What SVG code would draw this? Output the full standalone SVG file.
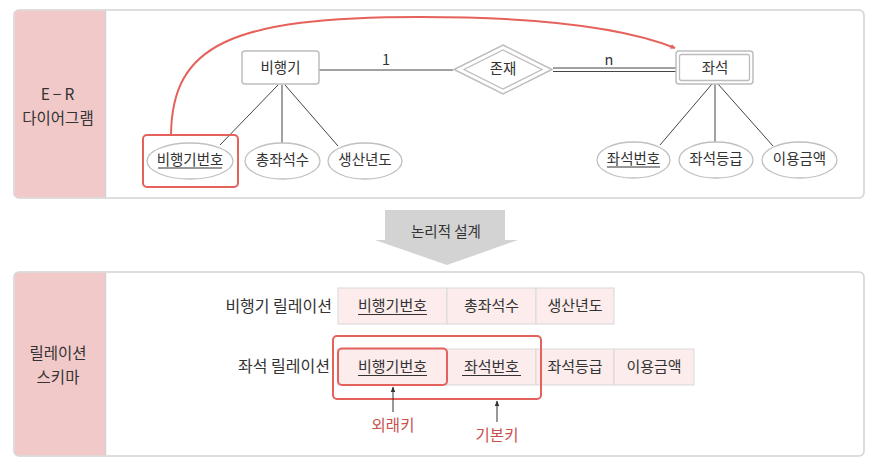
<svg xmlns="http://www.w3.org/2000/svg" width="879" height="471" viewBox="0 0 879 471">
<style>
text{font-family:"Noto Sans CJK KR","Noto Sans",sans-serif;font-size:14.5px;fill:#333;text-anchor:middle}
.lbl{font-size:15.5px;fill:#333}
.tb{font-size:15px}
.rl{font-size:16px;text-anchor:end}
.red{fill:#c9514c;font-size:15.5px}
.panel{fill:#fff;stroke:#d2d2d2;stroke-width:1.5}
.band{fill:#f2c9c9}
.ent{fill:#fff;stroke:#bdbdbd;stroke-width:1.5}
.attr{fill:#fff;stroke:#c0c0c0;stroke-width:1.3}
.ln{stroke:#444;stroke-width:1;fill:none}
.ul{stroke:#333;stroke-width:1}
.cell{fill:#fcecec;stroke:#d9d9d9;stroke-width:1}
.hl{fill:none;stroke:#e5625c;stroke-width:2}
</style>
<defs>
<marker id="redArrow" viewBox="0 0 10 10" refX="9" refY="5" markerWidth="5" markerHeight="5" orient="auto" markerUnits="userSpaceOnUse">
<path d="M0,0 L10,5 L0,10 z" fill="#e5625c"/>
</marker>
<marker id="blkArrow" viewBox="0 0 10 10" refX="9" refY="5" markerWidth="6" markerHeight="6" orient="auto" markerUnits="userSpaceOnUse">
<path d="M0,1 L10,5 L0,9 z" fill="#333"/>
</marker>
</defs>

<!-- top panel -->
<g id="panel-er">
<rect class="panel" x="14" y="10" width="850" height="188" rx="5"/>
<path class="band" d="M19,10.75 H105 V197.25 H19 a4.25,4.25 0 0 1 -4.25,-4.25 V15 a4.25,4.25 0 0 1 4.25,-4.25 z"/>
<line x1="105.5" y1="11" x2="105.5" y2="197" stroke="#d2d2d2" stroke-width="1.5"/>
<text class="lbl" x="59" y="100" letter-spacing="3">E−R</text>
<text class="lbl" x="58" y="124">다이어그램</text>
</g>

<!-- bottom panel -->
<g id="panel-rel">
<rect class="panel" x="14" y="272" width="850" height="184" rx="5"/>
<path class="band" d="M19,272.75 H105 V455.25 H19 a4.25,4.25 0 0 1 -4.25,-4.25 V277 a4.25,4.25 0 0 1 4.25,-4.25 z"/>
<line x1="105.5" y1="273" x2="105.5" y2="455" stroke="#d2d2d2" stroke-width="1.5"/>
<text class="lbl" x="58" y="359">릴레이션</text>
<text class="lbl" x="58" y="383">스키마</text>
</g>

<!-- connectors -->
<g id="connectors">
<line class="ln" x1="319" y1="70" x2="453" y2="70"/>
<line class="ln" x1="553" y1="68" x2="676" y2="68"/>
<line class="ln" x1="553" y1="71.5" x2="676" y2="71.5"/>
<line class="ln" x1="278" y1="85" x2="220" y2="145"/>
<line class="ln" x1="282" y1="85" x2="282" y2="144"/>
<line class="ln" x1="285" y1="85" x2="338" y2="146"/>
<line class="ln" x1="712" y1="84" x2="660" y2="145"/>
<line class="ln" x1="715" y1="84" x2="715" y2="142"/>
<line class="ln" x1="718" y1="84" x2="773" y2="146"/>
<path d="M171,135 C172,45 230,17 420,17 C540,17 625,28 675,48" fill="none" stroke="#e5625c" stroke-width="2" marker-end="url(#redArrow)"/>
<text x="386" y="65">1</text>
<text x="609" y="65">n</text>
</g>

<!-- entities -->
<g id="node-airplane">
<rect class="ent" x="242" y="51" width="77" height="33" rx="3"/>
<text x="280.5" y="73">비행기</text>
</g>
<g id="node-exist">
<polygon points="503,45 552,69.5 503,94 454,69.5" fill="#fff" stroke="#bdbdbd" stroke-width="1.5"/>
<polygon points="503,50 542,69.5 503,89 464,69.5" fill="none" stroke="#bdbdbd" stroke-width="1.3"/>
<text x="503" y="74">존재</text>
</g>
<g id="node-seat">
<rect class="ent" x="676" y="51" width="77" height="33" rx="3"/>
<rect x="679.5" y="54.5" width="70" height="26" rx="2" fill="none" stroke="#bdbdbd" stroke-width="1.3"/>
<text x="715" y="73">좌석</text>
</g>

<!-- attributes -->
<g id="attr-planeno">
<ellipse class="attr" cx="190" cy="161" rx="43" ry="18"/>
<text x="190" y="165">비행기번호</text>
<line class="ul" x1="158" y1="168" x2="222" y2="168"/>
<rect class="hl" x="143" y="135" width="95" height="52" rx="4"/>
</g>
<g id="attr-totalseats">
<ellipse class="attr" cx="282.5" cy="161" rx="37.5" ry="18"/>
<text x="282.5" y="165">총좌석수</text>
</g>
<g id="attr-year">
<ellipse class="attr" cx="365" cy="161" rx="37" ry="18"/>
<text x="365" y="165">생산년도</text>
</g>
<g id="attr-seatno">
<ellipse class="attr" cx="633.5" cy="160" rx="36.5" ry="18"/>
<text x="633.5" y="164">좌석번호</text>
<line class="ul" x1="607" y1="167" x2="660" y2="167"/>
</g>
<g id="attr-grade">
<ellipse class="attr" cx="716" cy="160" rx="37" ry="18"/>
<text x="716" y="164">좌석등급</text>
</g>
<g id="attr-price">
<ellipse class="attr" cx="799.5" cy="160" rx="37.5" ry="18"/>
<text x="799.5" y="164">이용금액</text>
</g>

<!-- transform arrow -->
<g id="arrow-design">
<polygon points="385,210 505,210 505,240 518,240 447,265 375,240 385,240" fill="#d3d3d3"/>
<text x="446" y="237">논리적 설계</text>
</g>

<!-- relation 1 -->
<g id="rel-airplane">
<text class="rl" x="332" y="312">비행기 릴레이션</text>
<rect class="cell" x="338" y="288" width="109" height="36"/>
<rect class="cell" x="447" y="288" width="89" height="36"/>
<rect class="cell" x="536" y="288" width="78" height="36"/>
<text class="tb" x="392.5" y="311">비행기번호</text>
<line class="ul" x1="358" y1="314.5" x2="427" y2="314.5"/>
<text class="tb" x="491.5" y="311">총좌석수</text>
<text class="tb" x="575" y="311">생산년도</text>
</g>

<!-- relation 2 -->
<g id="rel-seat">
<text class="rl" x="330" y="372">좌석 릴레이션</text>
<rect class="cell" x="338" y="349" width="109" height="36"/>
<rect class="cell" x="447" y="349" width="89" height="36"/>
<rect class="cell" x="536" y="349" width="78" height="36"/>
<rect class="cell" x="614" y="349" width="80" height="36"/>
<text class="tb" x="392.5" y="372">비행기번호</text>
<line class="ul" x1="358" y1="375.5" x2="427" y2="375.5"/>
<text class="tb" x="491.5" y="372">좌석번호</text>
<line class="ul" x1="462" y1="375.5" x2="521" y2="375.5"/>
<text class="tb" x="575" y="372">좌석등급</text>
<text class="tb" x="654" y="372">이용금액</text>
<rect class="hl" x="338" y="348.5" width="109" height="36.5" rx="4"/>
<rect class="hl" x="333" y="336" width="208" height="63" rx="4"/>
</g>

<g id="label-fk">
<line x1="393" y1="412" x2="393" y2="387" stroke="#333" stroke-width="1" marker-end="url(#blkArrow)"/>
<text class="red" x="393" y="431">외래키</text>
</g>
<g id="label-pk">
<line x1="497" y1="422" x2="497" y2="401" stroke="#333" stroke-width="1" marker-end="url(#blkArrow)"/>
<text class="red" x="497" y="441">기본키</text>
</g>
</svg>
